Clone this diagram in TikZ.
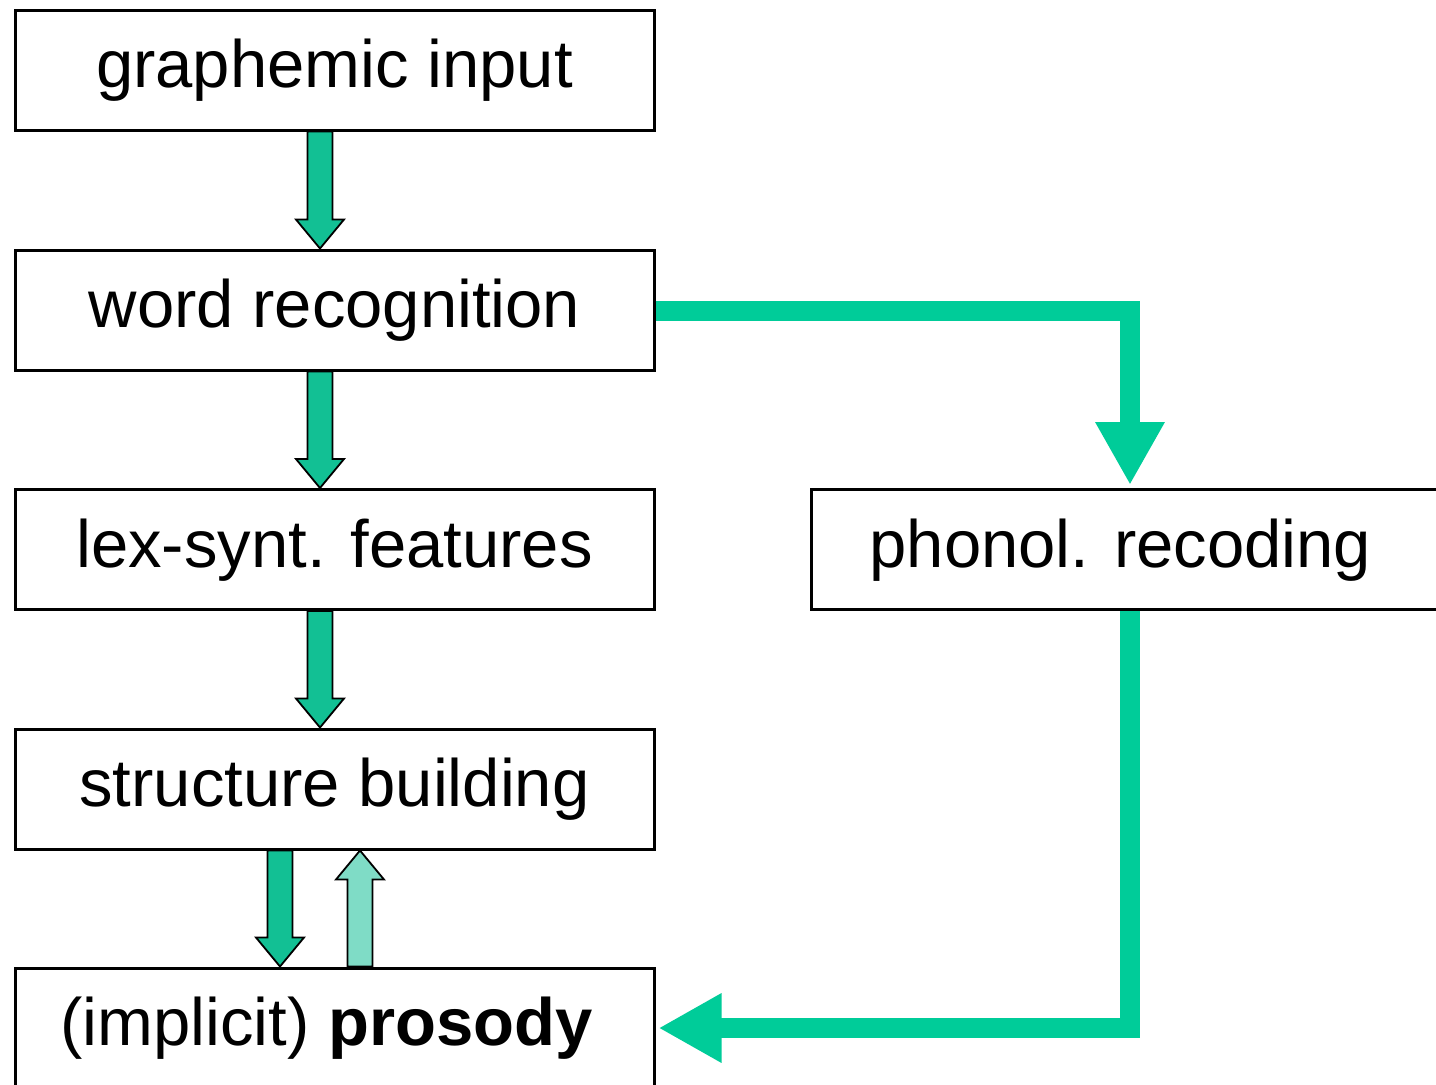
\documentclass[tikz,border=0pt]{standalone}
\usepackage{fontspec}
\setmainfont{Liberation Sans}
\usetikzlibrary{calc,arrows.meta}
\definecolor{conn}{HTML}{00CC99}
\definecolor{blkfill}{HTML}{12C094}
\definecolor{hatchfill}{HTML}{7FDCC6}
\newcommand{\blkarrow}[3][]{%
  \draw[blkstyle,#1] let \p1=(#2), \p2=(#3), \n1={sign(\y2-\y1)} in
    (\x1-6.25pt,\y1) -- (\x1-6.25pt,{\y2-\n1*14.5pt}) -- (\x1-12pt,{\y2-\n1*14.5pt})
    -- (\x1,\y2) -- (\x1+12pt,{\y2-\n1*14.5pt}) -- (\x1+6.25pt,{\y2-\n1*14.5pt})
    -- (\x1+6.25pt,\y1) -- cycle;}
\begin{document}
\begin{tikzpicture}[x=0.5pt,y=-0.5pt,
  box/.style={draw=black,line width=1.5pt,fill=white,minimum width=319.5pt,
    minimum height=60pt,inner sep=0pt,text height=24.5pt,text depth=7pt,
    font=\fontsize{33.5pt}{40pt}\selectfont},
  blkstyle/.style={draw=black,line width=0.9pt,fill=blkfill,line join=miter},
  conline/.style={draw=conn,line width=10pt,line join=miter,
    -{Triangle[width=32.5pt,length=31.5pt]}}]
\useasboundingbox (0,0) rectangle (1436,1084);
\clip (0,0) rectangle (1436,1084);
\fill[white] (0,0) rectangle (1436,1084);
\node[box] (g) at (334.5,70) {graphemic input};
\node[box] (w) at (334.5,310) {word recognition};
\node[box] (l) at (334.5,549.5) {lex-synt. features};
\node[box] (s) at (334.5,789) {structure building};
\node[box] (p) at (334.5,1028) {\hspace*{-8pt}(implicit) \textbf{prosody}};
\node[box] (ph) at (1130.5,549.5) {\hspace*{-10pt}phonol. recoding};
\blkarrow{[xshift=-7.25pt]g.south}{[xshift=-7.25pt]w.north}
\blkarrow{[xshift=-7.25pt]w.south}{[xshift=-7.25pt]l.north}
\blkarrow{[xshift=-7.25pt]l.south}{[xshift=-7.25pt]s.north}
\blkarrow{[xshift=-27.25pt]s.south}{[xshift=-27.25pt]p.north}
\blkarrow[fill=hatchfill]{[xshift=12.75pt]p.north}{[xshift=12.75pt]s.south}
\draw[conline] ([yshift=-0.5pt]w.east) -| ([xshift=-0.25pt,yshift=1.5pt]ph.north);
\draw[conline] ([xshift=-0.25pt]ph.south) |- ([xshift=1.5pt]p.east);
\end{tikzpicture}
\end{document}
